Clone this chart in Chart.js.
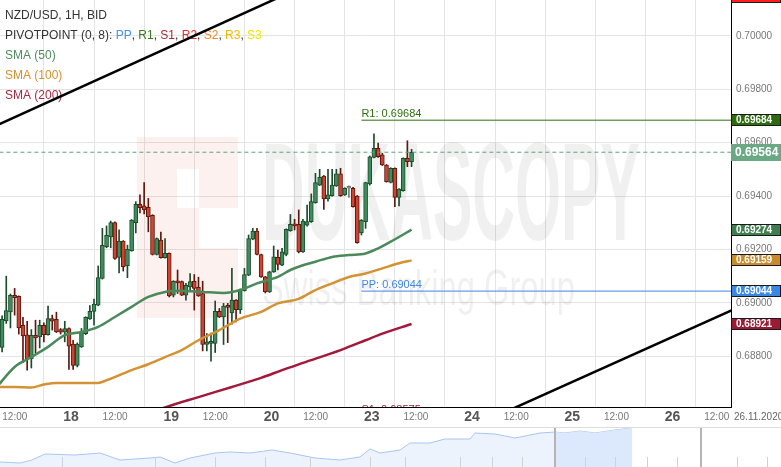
<!DOCTYPE html>
<html>
<head>
<meta charset="utf-8">
<script src="https://cdn.jsdelivr.net/npm/chart.js@4.4.0/dist/chart.umd.min.js"></script>
<style>
  html, body { margin: 0; padding: 0; background: #fff; }
  #wrap { position: relative; width: 781px; height: 467px; overflow: hidden; }
  .box { position: absolute; left: 0; width: 781px; }
</style>
</head>
<body>
<div id="wrap">
  <div class="box" style="top:0;height:427px"><canvas id="main"></canvas></div>
  <div class="box" style="top:427px;height:40px"><canvas id="nav"></canvas></div>
</div>
<script>
// NZD/USD 1H candles, hour index 0 = 18.11 00:00 (weekend skipped)
const firstHour = -16;
const opens = [
  0.68833, 0.68932, 0.68966, 0.69028, 0.69024, 0.68916, 0.68880, 0.68791, 0.68878, 0.68872,
  0.68916, 0.68881, 0.68941, 0.68938, 0.68900, 0.68890, 0.68904, 0.68846, 0.68766, 0.68835,
  0.68885, 0.68940, 0.68968, 0.68991, 0.69091, 0.69210, 0.69247, 0.69301, 0.69170, 0.69231,
  0.69139, 0.69195, 0.69300, 0.69369, 0.69363, 0.69358, 0.69328, 0.69181, 0.69235, 0.69169,
  0.69185, 0.69029, 0.69080, 0.69080, 0.69029, 0.69060, 0.69081, 0.69058, 0.69035, 0.68844,
  0.68848, 0.68848, 0.68968, 0.68947, 0.68991, 0.68962, 0.69010, 0.68974, 0.69046, 0.69104,
  0.69238, 0.69269, 0.69181, 0.69097, 0.69041, 0.69116, 0.69170, 0.69141, 0.69181, 0.69270,
  0.69294, 0.69294, 0.69191, 0.69291, 0.69304, 0.69375, 0.69441, 0.69475, 0.69389, 0.69401,
  0.69438, 0.69483, 0.69404, 0.69429, 0.69429, 0.69400, 0.69262, 0.69304, 0.69445, 0.69545,
  0.69579, 0.69554, 0.69516, 0.69451, 0.69504, 0.69395, 0.69420, 0.69541, 0.69529
];
const highs = [
  0.68951, 0.69100, 0.69033, 0.69054, 0.69026, 0.68946, 0.68931, 0.68900, 0.68935, 0.68935,
  0.68925, 0.68988, 0.68954, 0.68965, 0.68904, 0.68931, 0.68906, 0.68860, 0.68850, 0.68904,
  0.68948, 0.68990, 0.69014, 0.69138, 0.69279, 0.69288, 0.69306, 0.69303, 0.69273, 0.69233,
  0.69216, 0.69312, 0.69379, 0.69404, 0.69450, 0.69391, 0.69330, 0.69243, 0.69265, 0.69241,
  0.69187, 0.69083, 0.69123, 0.69082, 0.69073, 0.69110, 0.69106, 0.69096, 0.69081, 0.68885,
  0.68887, 0.69007, 0.68979, 0.68998, 0.68998, 0.69129, 0.69012, 0.69052, 0.69129, 0.69254,
  0.69279, 0.69279, 0.69183, 0.69099, 0.69118, 0.69213, 0.69198, 0.69204, 0.69277, 0.69331,
  0.69313, 0.69348, 0.69313, 0.69366, 0.69408, 0.69485, 0.69500, 0.69477, 0.69500, 0.69500,
  0.69500, 0.69504, 0.69431, 0.69438, 0.69433, 0.69402, 0.69312, 0.69452, 0.69550, 0.69633,
  0.69598, 0.69560, 0.69518, 0.69506, 0.69506, 0.69428, 0.69543, 0.69607, 0.69575
];
const lows = [
  0.68816, 0.68923, 0.68906, 0.68954, 0.68883, 0.68776, 0.68748, 0.68756, 0.68812, 0.68831,
  0.68854, 0.68879, 0.68898, 0.68889, 0.68883, 0.68854, 0.68751, 0.68751, 0.68760, 0.68833,
  0.68881, 0.68938, 0.68916, 0.68989, 0.69089, 0.69206, 0.69206, 0.69163, 0.69112, 0.69119,
  0.69094, 0.69193, 0.69262, 0.69337, 0.69333, 0.69266, 0.69179, 0.69179, 0.69167, 0.69167,
  0.69022, 0.69022, 0.69035, 0.69027, 0.69010, 0.69041, 0.68973, 0.69024, 0.68820, 0.68820,
  0.68782, 0.68814, 0.68945, 0.68844, 0.68851, 0.68920, 0.68929, 0.68960, 0.69044, 0.69102,
  0.69236, 0.69179, 0.69095, 0.69037, 0.69039, 0.69114, 0.69123, 0.69139, 0.69176, 0.69268,
  0.69273, 0.69187, 0.69189, 0.69287, 0.69301, 0.69373, 0.69439, 0.69350, 0.69381, 0.69399,
  0.69436, 0.69399, 0.69402, 0.69395, 0.69358, 0.69223, 0.69254, 0.69279, 0.69441, 0.69543,
  0.69545, 0.69514, 0.69452, 0.69449, 0.69360, 0.69363, 0.69418, 0.69510, 0.69510
];
const closes = [
  0.68938, 0.68971, 0.69028, 0.69019, 0.68906, 0.68876, 0.68791, 0.68878, 0.68869, 0.68916,
  0.68881, 0.68941, 0.68931, 0.68891, 0.68890, 0.68904, 0.68838, 0.68766, 0.68846, 0.68890,
  0.68946, 0.68968, 0.68995, 0.69095, 0.69215, 0.69253, 0.69301, 0.69166, 0.69231, 0.69135,
  0.69200, 0.69310, 0.69369, 0.69356, 0.69348, 0.69322, 0.69181, 0.69241, 0.69169, 0.69185,
  0.69026, 0.69081, 0.69075, 0.69029, 0.69066, 0.69080, 0.69054, 0.69026, 0.68844, 0.68854,
  0.68856, 0.68968, 0.68947, 0.68988, 0.68983, 0.69010, 0.68974, 0.69050, 0.69106, 0.69241,
  0.69269, 0.69181, 0.69097, 0.69041, 0.69116, 0.69172, 0.69144, 0.69191, 0.69275, 0.69294,
  0.69288, 0.69191, 0.69306, 0.69304, 0.69379, 0.69450, 0.69470, 0.69389, 0.69404, 0.69441,
  0.69483, 0.69401, 0.69429, 0.69429, 0.69360, 0.69225, 0.69310, 0.69450, 0.69547, 0.69579,
  0.69547, 0.69516, 0.69454, 0.69504, 0.69395, 0.69426, 0.69541, 0.69529, 0.69564
];

// moving averages, read at a few hours
const sma50Hours = [-17, -13, -9, -5, -1, 3, 7, 11, 15, 19, 23, 27, 32, 37, 41, 45, 50, 53, 56, 59, 63, 67, 71, 74, 77, 82];
const sma50Values = [0.68690, 0.68760, 0.68797, 0.68835, 0.68879, 0.68891, 0.68910, 0.68947, 0.68985, 0.69022, 0.69041, 0.69045, 0.69041,
  0.69037, 0.69048, 0.69073, 0.69097, 0.69123, 0.69141, 0.69154, 0.69172, 0.69179, 0.69185, 0.69204, 0.69229, 0.69274];
const sma100Hours = [-17, -13, -9, -6, -3, 7, 9, 15, 19, 23, 27, 31, 36, 41, 46, 50, 55, 59, 63, 67, 71, 75, 79, 82];
const sma100Values = [0.68685, 0.68685, 0.68683, 0.68694, 0.68700, 0.68700, 0.68710, 0.68748, 0.68770, 0.68797, 0.68823, 0.68860,
  0.68898, 0.68941, 0.68966, 0.68998, 0.69015, 0.69048, 0.69073, 0.69097, 0.69110, 0.69129, 0.69148, 0.69159];
const sma200Hours = [20, 23, 31, 39, 46, 51, 56, 65, 71, 75, 82];
const sma200Values = [0.68590, 0.68608, 0.68647, 0.68685, 0.68719, 0.68748, 0.68775, 0.68823, 0.68860, 0.68885, 0.68921];

// trend lines
const upperTrendHours = [-20, 60];
const upperTrendValues = [0.69645, 0.70213];
const lowerTrendHours = [100, 165];
const lowerTrendValues = [0.68560, 0.69017];

// pivot levels
const pivotFrom = 70;
const pivotTo = 160;
const pivotR2 = 0.70147;
const pivotR1 = 0.69684;
const pivotPP = 0.69044;
const pivotS1 = 0.68575;
const lastPrice = 0.69564;

// axis ticks
const tickHours = [-12, 0, 12, 24, 36, 48, 60, 72, 84, 96, 108, 120, 132, 144, 156];
const tickLabels = ['12:00', '18', '12:00', '19', '12:00', '20', '12:00', '23', '12:00', '24', '12:00', '25', '12:00', '26', '12:00'];
const yTicks = [0.688, 0.690, 0.692, 0.694, 0.696, 0.698, 0.700];

// navigator overview
const navPos = [0, 20, 32, 45, 75, 100, 120, 150, 160, 175, 190, 215, 230, 250, 272, 290, 315, 340, 360, 370,
  380, 400, 410, 430, 445, 470, 475, 495, 515, 540, 555, 565, 580, 595, 615, 632];
const navLevel = [5, 4, 7, 13, 12, 14, 7, 9, 10, 4, 9, 14, 15, 14, 17, 14, 9, 7, 10, 18,
  14, 17, 24, 24, 28, 28, 34, 33, 29, 34, 35, 34, 36, 34, 37, 39];
const navWindow = [555, 701];
const navTicks = [62, 155, 215, 265, 310, 370, 405, 460, 492, 522, 585, 615, 647, 677, 737, 767];

const NARROW = "'Liberation Sans Narrow', 'Arial Narrow', 'Liberation Sans', sans-serif";
const SANS = "'Liberation Sans', Arial, sans-serif";

const hours = opens.map((_, i) => firstHour + i);
const dir = opens.map((o, i) => closes[i] > o ? 1 : closes[i] < o ? -1 : 0);
const bodyFill = dir.map(d => d > 0 ? '#3f8d5d' : d < 0 ? '#cc4432' : '#9a9a9a');
const edge = dir.map(d => d > 0 ? '#1c4b2b' : d < 0 ? '#5e170d' : '#777777');

const xy = (xsArr, ysArr) => xsArr.map((x, i) => ({ x: x, y: ysArr[i] }));
const flat = (v) => [{ x: pivotFrom, y: v }, { x: pivotTo, y: v }];
const lineDs = (data, color, width, extra) => Object.assign({
  type: 'line', data: data, borderColor: color, borderWidth: width,
  pointRadius: 0, fill: false, order: 0, cubicInterpolationMode: 'monotone'
}, extra || {});

const overlay = {
  id: 'overlay',
  beforeDatasetsDraw(chart) {
    const { ctx, chartArea: a } = chart;
    ctx.save();
    ctx.beginPath();
    ctx.rect(a.left, a.top, a.width, a.height);
    ctx.clip();
    // watermark
    ctx.fillStyle = 'rgba(225, 70, 60, 0.075)';
    ctx.beginPath();
    ctx.rect(137, 137, 101, 181);
    ctx.rect(177, 169, 22, 39);
    ctx.rect(199, 208, 39, 40);
    ctx.fill('evenodd');
    ctx.fillStyle = 'rgba(0, 0, 0, 0.06)';
    ctx.font = 'bold 140px ' + NARROW;
    ctx.textBaseline = 'alphabetic';
    let w = ctx.measureText('DUKASCOPY').width;
    ctx.save();
    ctx.translate(262, 240);
    ctx.scale(378 / w, 1);
    ctx.fillText('DUKASCOPY', 0, 0);
    ctx.restore();
    ctx.font = '50px ' + SANS;
    w = ctx.measureText('Swiss Banking Group').width;
    ctx.save();
    ctx.translate(262, 305);
    ctx.scale(313 / w, 1);
    ctx.fillText('Swiss Banking Group', 0, 0);
    ctx.restore();
    ctx.restore();

    // legend
    ctx.save();
    ctx.font = '12px ' + SANS;
    ctx.textBaseline = 'middle';
    ctx.fillStyle = '#333';
    ctx.fillText('NZD/USD, 1H, BID', 5, 16);
    const parts = [['PIVOTPOINT (0, 8): ', '#333'], ['PP', '#4a8fe8'], [', ', '#333'], ['R1', '#3a7a1c'], [', ', '#333'],
      ['S1', '#a82a2e'], [', ', '#333'], ['R2', '#ee2a24'], [', ', '#333'], ['S2', '#f08a25'], [', ', '#333'],
      ['R3', '#f2b900'], [', ', '#333'], ['S3', '#f2e600']];
    let x = 5;
    parts.forEach(p => {
      ctx.fillStyle = p[1];
      ctx.fillText(p[0], x, 36);
      x += ctx.measureText(p[0]).width;
    });
    ctx.fillStyle = '#4e8c5e';
    ctx.fillText('SMA (50)', 5, 56);
    ctx.fillStyle = '#d4922f';
    ctx.fillText('SMA (100)', 5, 76);
    ctx.fillStyle = '#a42a42';
    ctx.fillText('SMA (200)', 5, 96);
    ctx.restore();
  },
  afterDraw(chart) {
    const { ctx, chartArea: a } = chart;
    const xs = chart.scales.x, ys = chart.scales.y;

    // pivot captions
    ctx.save();
    ctx.beginPath();
    ctx.rect(a.left, a.top, a.width, a.height);
    ctx.clip();
    ctx.font = '11px ' + SANS;
    ctx.textBaseline = 'alphabetic';
    const px = xs.getPixelForValue(pivotFrom);
    [[pivotR1, 'R1: ', '#2f6f10'], [pivotPP, 'PP: ', '#3f86ea'], [pivotS1, 'S1: ', '#a31b2e']].forEach(p => {
      ctx.fillStyle = p[2];
      ctx.fillText(p[1] + p[0].toFixed(5), px, ys.getPixelForValue(p[0]) - 3);
    });
    ctx.restore();

    // x labels
    ctx.save();
    ctx.textBaseline = 'middle';
    ctx.textAlign = 'center';
    tickHours.forEach((h, i) => {
      const lx = xs.getPixelForValue(h);
      if (tickLabels[i].indexOf(':') > 0) {
        ctx.font = '10px ' + NARROW;
        ctx.fillStyle = '#777';
        ctx.fillText(tickLabels[i], lx - 4, 417);
      } else {
        ctx.font = 'bold 14px ' + NARROW;
        ctx.fillStyle = '#555';
        ctx.fillText(tickLabels[i], lx + 2, 417);
      }
    });
    ctx.textAlign = 'left';
    ctx.font = '10px ' + NARROW;
    ctx.fillStyle = '#666';
    ctx.fillText('26.11.2020', a.right + 3, 417);
    ctx.restore();

    // value boxes on the price axis
    ctx.save();
    ctx.textBaseline = 'middle';
    const boxes = [
      [pivotR2, '#ff1f1f'], [pivotR1, '#2d6b0e'], [sma50Values[sma50Values.length - 1], '#3f7f4f'],
      [sma100Values[sma100Values.length - 1], '#c98a2c'], [pivotPP, '#3a87ea'],
      [sma200Values[sma200Values.length - 1], '#991b35']
    ];
    boxes.forEach(b => {
      const by = Math.round(ys.getPixelForValue(b[0]));
      ctx.fillStyle = b[1];
      ctx.fillRect(a.right, by - 6, 50, 12);
      ctx.strokeStyle = '#1a1a1a';
      ctx.lineWidth = 1;
      ctx.strokeRect(a.right + 0.5, by - 5.5, 49, 11);
      ctx.fillStyle = '#fff';
      ctx.font = 'bold 10px ' + SANS;
      ctx.fillText(b[0].toFixed(5), a.right + 5, by + 0.5);
    });
    const cy = Math.round(ys.getPixelForValue(lastPrice));
    ctx.fillStyle = '#6aa984';
    ctx.fillRect(a.right, cy - 8, 50, 17);
    ctx.fillStyle = '#fff';
    ctx.font = 'bold 12px ' + SANS;
    ctx.fillText(lastPrice.toFixed(5), a.right + 4, cy + 0.5);
    ctx.restore();
  }
};

new Chart(document.getElementById('main'), {
  type: 'bar',
  data: {
    datasets: [
      lineDs(xy(upperTrendHours, upperTrendValues), '#000', 2.5, { cubicInterpolationMode: 'default' }),
      lineDs(xy(lowerTrendHours, lowerTrendValues), '#000', 2.5, { cubicInterpolationMode: 'default' }),
      lineDs(flat(pivotR1), '#2f6f10', 1),
      lineDs(flat(pivotPP), '#3f86ea', 1),
      lineDs(flat(pivotS1), '#a31b2e', 1),
      lineDs([{ x: -20, y: lastPrice }, { x: pivotTo, y: lastPrice }], '#5ca37a', 1, { borderDash: [4, 3] }),
      lineDs(xy(sma50Hours, sma50Values), '#4a8a5a', 2.5, { order: 1 }),
      lineDs(xy(sma100Hours, sma100Values), '#d39233', 2.5, { order: 1 }),
      lineDs(xy(sma200Hours, sma200Values), '#a3193a', 2.5, { order: 1 }),
      {
        label: 'body',
        data: hours.map((h, i) => ({ x: h, y: [opens[i], closes[i]] })),
        backgroundColor: bodyFill,
        borderColor: edge,
        borderWidth: 1,
        borderSkipped: false,
        barThickness: 4,
        minBarLength: 2,
        grouped: false,
        order: 2
      },
      {
        label: 'wick',
        data: hours.map((h, i) => ({ x: h, y: [lows[i], highs[i]] })),
        backgroundColor: edge,
        borderWidth: 0,
        barThickness: 1,
        grouped: false,
        order: 3
      }
    ]
  },
  options: {
    animation: false,
    responsive: true,
    maintainAspectRatio: false,
    layout: { padding: 0 },
    plugins: { legend: { display: false }, tooltip: { enabled: false } },
    scales: {
      x: {
        type: 'linear',
        min: -16.5,
        max: 158.45,
        offset: false,
        afterBuildTicks: (axis) => { axis.ticks = tickHours.map(v => ({ value: v })); },
        afterFit: (axis) => { axis.height = 20; axis.paddingLeft = 0; axis.paddingRight = 0; },
        grid: { color: '#e4e4e4', drawTicks: false },
        border: { display: true, color: '#000', width: 1 },
        ticks: { display: false }
      },
      y: {
        position: 'right',
        min: 0.68610,
        max: 0.70134,
        afterBuildTicks: (axis) => { axis.ticks = yTicks.map(v => ({ value: v })); },
        afterFit: (axis) => { axis.width = 50; axis.paddingTop = 0; axis.paddingBottom = 0; },
        grid: { color: '#e4e4e4', drawTicks: false },
        border: { display: true, color: '#000', width: 1 },
        ticks: {
          padding: 5,
          color: '#777',
          font: { family: SANS, size: 10 },
          callback: (v) => Number(v).toFixed(5)
        }
      }
    }
  },
  plugins: [overlay]
});

// navigator strip
const navDecor = {
  id: 'navDecor',
  afterDraw(chart) {
    const { ctx } = chart;
    const xs = chart.scales.x;
    ctx.save();
    ctx.strokeStyle = '#dddddd';
    ctx.lineWidth = 1;
    ctx.beginPath();
    ctx.moveTo(0, 0.5);
    ctx.lineTo(781, 0.5);
    ctx.stroke();
    ctx.strokeStyle = '#d2d2d2';
    navTicks.forEach(t => {
      const tx = Math.round(xs.getPixelForValue(t)) + 0.5;
      ctx.beginPath();
      ctx.moveTo(tx, 30);
      ctx.lineTo(tx, 40);
      ctx.stroke();
    });
    ctx.strokeStyle = '#b4b4b4';
    ctx.lineWidth = 2;
    navWindow.forEach(t => {
      const tx = xs.getPixelForValue(t);
      ctx.beginPath();
      ctx.moveTo(tx, 1);
      ctx.lineTo(tx, 40);
      ctx.stroke();
    });
    ctx.restore();
  }
};

const navAll = xy(navPos, navLevel);
new Chart(document.getElementById('nav'), {
  type: 'line',
  data: {
    datasets: [
      {
        data: navAll.filter(p => p.x >= navWindow[0]),
        borderWidth: 0,
        backgroundColor: '#dce8fb',
        fill: 'origin',
        pointRadius: 0
      },
      {
        data: navAll,
        borderColor: '#a8c6f3',
        borderWidth: 1,
        backgroundColor: '#edf3fd',
        fill: 'origin',
        pointRadius: 0
      }
    ]
  },
  options: {
    animation: false,
    responsive: true,
    maintainAspectRatio: false,
    layout: { padding: 0 },
    plugins: { legend: { display: false }, tooltip: { enabled: false } },
    scales: {
      x: { type: 'linear', min: 0, max: 781, display: false },
      y: { min: 0, max: 40, display: false }
    }
  },
  plugins: [navDecor]
});
</script>
</body>
</html>
